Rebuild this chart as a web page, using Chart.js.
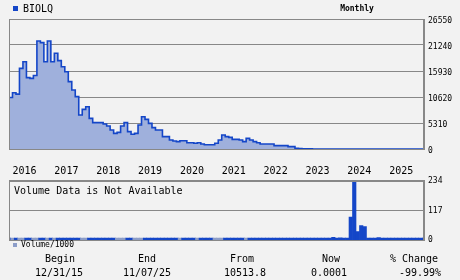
<!DOCTYPE html>
<html>
<head>
<meta charset="utf-8">
<script src="https://cdn.jsdelivr.net/npm/chart.js@4.4.1/dist/chart.umd.min.js"></script>
<style>
  body { margin:0; background:#f2f2f2; width:460px; height:280px; position:relative; overflow:hidden; font-family:"DejaVu Sans Mono", monospace; color:#000; }
  #priceBox { position:absolute; left:0; top:0; width:460px; height:178px; }
  #volBox { position:absolute; left:0; top:172px; width:460px; height:77px; }
  .txt { position:absolute; white-space:nowrap; line-height:1; }
  .c { transform:translateX(-50%); }
</style>
</head>
<body>
<div id="priceBox"><canvas id="price"></canvas></div>
<div id="volBox"><canvas id="volume"></canvas></div>
<div id="labels"></div>
<script>
// monthly closes, Dec 2015 .. Nov 2025
const prices = [
  10513.8, 11500, 11200, 16470, 17830, 14570, 14430, 15000, 22060, 21720,
  17830, 22060, 17830, 19540, 18040, 16810, 15790, 13750, 12050, 10690,
  6940, 8100, 8640, 6260, 5380, 5380, 5380, 5100, 4700, 3880,
  3200, 3400, 4700, 5380, 3540, 3000, 3200, 4900, 6600, 6060,
  5240, 4360, 3880, 3880, 2520, 2520, 1840, 1630, 1500, 1700,
  1700, 1290, 1290, 1160, 1290, 1020, 880, 880, 880, 1160,
  1840, 2860, 2520, 2380, 1970, 1970, 1840, 1500, 2180, 1840,
  1500, 1290, 1020, 1020, 1020, 1020, 680, 680, 680, 680,
  476, 476, 150, 90, 60, 40, 25, 15, 9, 5,
  3, 2, 1.2, 0.8, 0.5, 0.3, 0.2, 0.15, 0.1, 0.08,
  0.05, 0.04, 0.03, 0.02, 0.015, 0.01, 0.008, 0.006, 0.005, 0.004,
  0.003, 0.002, 0.0015, 0.001, 0.0008, 0.0005, 0.0003, 0.0002, 0.00015, 0.0001
];
// volume / 1000, same months
const volumes = [
  5, 5, 5, 5, 5, 5, 5, 5, 5, 5,
  5, 5, 5, 5, 5, 5, 5, 5, 5, 5,
  5, 5, 5, 5, 5, 5, 5, 5, 5, 5,
  5, 5, 5, 5, 5, 5, 5, 5, 5, 5,
  5, 5, 5, 5, 5, 5, 5, 5, 5, 5,
  5, 5, 5, 5, 5, 5, 5, 5, 5, 5,
  5, 5, 5, 5, 5, 5, 5, 5, 5, 5,
  5, 5, 5, 5, 5, 5, 5, 5, 5, 5,
  5, 5, 5, 5, 5, 5, 5, 5, 5, 5,
  5, 5, 5, 11, 5, 9, 5, 5, 91, 233,
  34, 58, 54, 5, 5, 5, 10, 5, 5, 5,
  5, 5, 5, 5, 5, 5, 5, 5, 5, 5
];
const years = ['2016','2017','2018','2019','2020','2021','2022','2023','2024','2025'];
const statHeads = ['Begin', 'End', 'From', 'Now', '% Change'];
const statValues = ['12/31/15', '11/07/25', '10513.8', '0.0001', '-99.99%'];

const DARK = '#1446c8', LIGHT = '#8c9dc8', FILL = '#9fb0dc', GRID = '#888888';
const FONT = 'DejaVu Sans Mono';
const last = prices.length - 1;

// grey frame round the plot area
const frame = {
  id: 'frame',
  afterDraw(chart) {
    const a = chart.chartArea, ctx = chart.ctx;
    ctx.save();
    ctx.strokeStyle = GRID;
    ctx.lineWidth = 1;
    ctx.strokeRect(Math.round(a.left) + 0.5, Math.round(a.top) + 0.5, Math.round(a.right - a.left) - 1, Math.round(a.bottom - a.top));
    ctx.restore();
  }
};

new Chart(document.getElementById('price'), {
  type: 'line',
  data: {
    datasets: [{
      data: prices.map((v, i) => ({ x: i, y: v })),
      stepped: true,
      borderColor: DARK,
      borderWidth: 1.6,
      backgroundColor: FILL,
      fill: 'origin',
      pointRadius: 0
    }]
  },
  options: {
    animation: false, responsive: true, maintainAspectRatio: false,
    layout: { padding: { left: 9, top: 19, right: 0, bottom: 0 } },
    plugins: { legend: { display: false }, tooltip: { enabled: false } },
    scales: {
      x: {
        type: 'linear', min: 0, max: last,
        grid: { display: false }, border: { display: false },
        afterBuildTicks: s => { s.ticks = years.map((y, k) => ({ value: 1 + 12 * k })) },
        ticks: {
          align: 'start', padding: 8, maxRotation: 0, autoSkip: false, color: '#000',
          font: { family: FONT, size: 10 },
          callback: v => years[(v - 1) / 12]
        },
        afterFit: s => { s.height = 29 }
      },
      y: {
        position: 'right', min: 0, max: 26550,
        ticks: { stepSize: 5310, padding: 4, labelOffset: 2, color: '#000', font: { family: FONT, size: 8 }, callback: v => String(v) },
        grid: { color: GRID, drawTicks: false },
        border: { color: GRID },
        afterFit: s => { s.width = 36 }
      }
    }
  },
  plugins: [frame]
});

new Chart(document.getElementById('volume'), {
  type: 'bar',
  data: {
    datasets: [{
      data: volumes.map((v, i) => ({ x: i, y: v })),
      backgroundColor: prices.map((p, i) => (i === 0 || p <= prices[i - 1]) ? DARK : LIGHT),
      barPercentage: 1, categoryPercentage: 1, minBarLength: 2, borderWidth: 0
    }]
  },
  options: {
    animation: false, responsive: true, maintainAspectRatio: false,
    layout: { padding: { left: 9, top: 8, right: 0, bottom: 0 } },
    plugins: { legend: { display: false }, tooltip: { enabled: false } },
    scales: {
      x: { type: 'linear', min: 0, max: last, offset: false, display: false },
      y: {
        position: 'right', min: 0, max: 234,
        ticks: { stepSize: 117, padding: 4, color: '#000', font: { family: FONT, size: 8 } },
        grid: { color: GRID, drawTicks: false },
        border: { color: GRID },
        afterFit: s => { s.width = 36 }
      }
    }
  },
  plugins: [frame]
});

// titles, legend and the stats row
const heads = [60, 147, 242, 331, 414], vals = [59, 147, 245, 329, 420];
let html = '<div class="txt" style="left:13px;top:4px;font-size:10px"><span style="display:inline-block;width:5px;height:5px;background:' + DARK + ';margin-right:5px;vertical-align:1px"></span>BIOLQ</div>'
  + '<div class="txt c" style="left:357px;top:5px;font-size:8px;font-weight:bold">Monthly</div>'
  + '<div class="txt" style="left:14px;top:186px;font-size:10px">Volume Data is Not Available</div>'
  + '<div class="txt" style="left:13px;top:241px;font-size:8px"><span style="display:inline-block;width:4px;height:4px;background:' + LIGHT + ';margin-right:4px;vertical-align:0px"></span>Volume/1000</div>';
statHeads.forEach((h, k) => {
  html += '<div class="txt c" style="left:' + heads[k] + 'px;top:254px;font-size:10px">' + h + '</div>';
  html += '<div class="txt c" style="left:' + vals[k] + 'px;top:268px;font-size:10px">' + statValues[k] + '</div>';
});
document.getElementById('labels').innerHTML = html;
</script>
</body>
</html>
